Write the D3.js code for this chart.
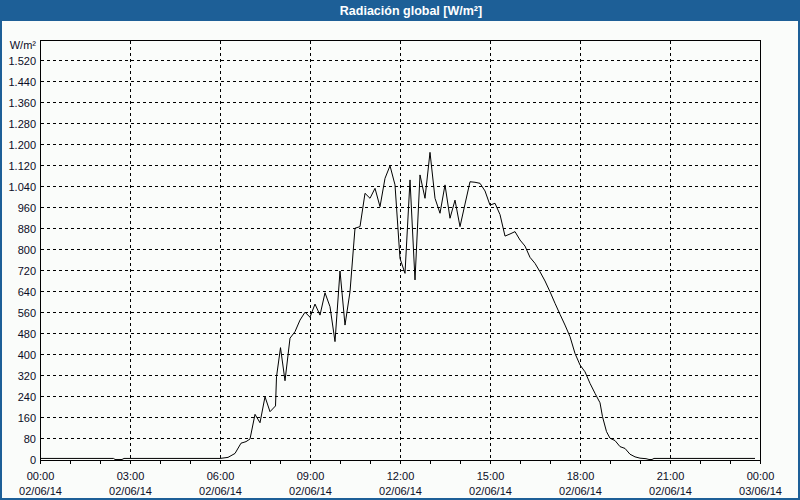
<!DOCTYPE html>
<html><head><meta charset="utf-8">
<script src="https://cdn.jsdelivr.net/npm/d3@7"></script>
<style>html,body{margin:0;padding:0;background:#fafcfa;} svg{display:block;}</style>
</head><body><svg id="c" width="800" height="500"></svg>
<script>
const title = "Radiación global [W/m²]";
const unitLabel = "W/m²";
const times = ["00:00","02:27","02:30","02:44","02:48","06:00","06:16","06:30","06:42","06:52",
  "07:00","07:10","07:20","07:30","07:40","07:51","07:53","08:01","08:10","08:20","08:30","08:40","08:50",
  "09:00","09:10","09:20","09:30","09:40","09:50","10:00","10:10","10:20","10:30","10:40","10:50",
  "11:00","11:10","11:20","11:30","11:40","11:50","12:00","12:10","12:20","12:30","12:40","12:50",
  "13:00","13:10","13:20","13:30","13:40","13:50","14:00","14:10","14:20","14:30","14:40","14:50",
  "15:00","15:10","15:20","15:30","15:40","15:50","16:00","16:10","16:20","16:30","16:40","16:50",
  "17:00","17:10","17:20","17:30","17:40","17:50","18:00","18:10","18:20","18:30","18:40","18:45","18:53",
  "19:00","19:10","19:20","19:30","19:40","19:50","20:00","20:12","20:18","20:24","20:28","23:50"];
const values = [6,6,2,2,6,6,10,25,64,70,
  80,174,142,241,184,206,317,428,302,464,489,533,563,
  544,594,552,637,584,451,720,514,641,883,889,1016,
  997,1035,965,1073,1121,1048,768,711,1067,686,1086,997,
  1172,997,940,1048,921,990,889,975,1060,1058,1054,1025,
  971,978,935,853,861,870,838,815,772,749,717,682,
  641,597,555,514,470,406,362,336,292,254,218,165,108,
  83,74,51,44,22,12,7,5,2,2,6,6];
const yTicks = [0,80,160,240,320,400,480,560,640,720,800,880,960,1040,1120,1200,1280,1360,1440,1520];
const yTickLabels = ["0","80","160","240","320","400","480","560","640","720","800","880","960",
  "1.040","1.120","1.200","1.280","1.360","1.440","1.520"];
const xTickHours = [0,1,2,3,4,5,6,7,8,9,10,11,12,13,14,15,16,17,18,19,20,21,22,23,24];
const xLabelHours = [0,3,6,9,12,15,18,21,24];
const xTimeLabels = ["00:00","03:00","06:00","09:00","12:00","15:00","18:00","21:00","00:00"];
const xDateLabels = ["02/06/14","02/06/14","02/06/14","02/06/14","02/06/14","02/06/14","02/06/14","02/06/14","03/06/14"];

const L=40, R=760, T=40, B=460;
const FONT = "'Liberation Sans', Arial, sans-serif";
const toMin = s => { const [h,m] = s.split(":").map(Number); return h*60+m; };
const data = times.map((t,i)=>({m: toMin(t), v: values[i]}));
data[data.length-1].m = toMin(times[times.length-1]);

const x = d3.scaleLinear().domain([0,1440]).range([L,R]);
const y = d3.scaleLinear().domain([0,1600]).range([B,T]);

const svg = d3.select("#c");
svg.append("rect").attr("x",0).attr("y",0).attr("width",800).attr("height",500).attr("fill","#fafcfa");
// title bar
svg.append("rect").attr("x",0).attr("y",0).attr("width",800).attr("height",21).attr("fill","#1d5f97");
svg.append("text").attr("x",411).attr("y",14.5).attr("text-anchor","middle")
  .attr("fill","#ffffff").attr("font-family",FONT).attr("font-weight","bold").attr("font-size","12.5px")
  .text(title);
// outer border
svg.append("rect").attr("x",1).attr("y",1).attr("width",798).attr("height",498)
  .attr("fill","none").attr("stroke","#1d5f97").attr("stroke-width",2);

// gridlines
const grid = svg.append("g").attr("shape-rendering","crispEdges")
  .attr("stroke","#000").attr("stroke-width",1).attr("stroke-dasharray","3,3");
grid.selectAll("line.h").data(yTicks.filter(v=>v>0)).join("line").attr("class","h")
  .attr("x1",L+1).attr("x2",R).attr("y1",d=>Math.round(y(d))-0.5).attr("y2",d=>Math.round(y(d))-0.5);
grid.selectAll("line.v").data(xLabelHours.filter(h=>h>0&&h<24)).join("line").attr("class","v")
  .attr("y1",T+1).attr("y2",B).attr("x1",d=>Math.round(x(d*60))+0.5).attr("x2",d=>Math.round(x(d*60))+0.5);

// frame top and right
const frame = svg.append("g").attr("shape-rendering","crispEdges").attr("stroke","#000");
frame.append("line").attr("x1",L).attr("x2",R+1).attr("y1",T+0.5).attr("y2",T+0.5);
frame.append("line").attr("x1",R+0.5).attr("x2",R+0.5).attr("y1",T).attr("y2",B+1);

// data line
const line = d3.line().x(d=>x(d.m)).y(d=>y(d.v));
svg.append("path").datum(data).attr("d",line).attr("fill","none").attr("stroke","#000").attr("stroke-width",1);

// y axis
const yAxis = d3.axisLeft(y).tickValues(yTicks).tickSize(0).tickPadding(4)
  .tickFormat((d,i)=>yTickLabels[i]);
const gy = svg.append("g").attr("transform",`translate(${L},0)`).call(yAxis);
gy.attr("font-family",FONT).attr("font-size","11px").style("color","#000");
gy.select(".domain").attr("shape-rendering","crispEdges");
gy.selectAll("text").attr("fill","#0b0b26");
svg.append("text").attr("x",36).attr("y",49).attr("text-anchor","end")
  .attr("font-family",FONT).attr("font-size","11px").attr("fill","#0b0b26").text(unitLabel);

// x axis
const xAxis = d3.axisBottom(x).tickValues(xTickHours.map(h=>h*60)).tickSize(4).tickSizeOuter(0).tickPadding(8)
  .tickFormat(d=>{ const i = xLabelHours.indexOf(d/60); return i<0 ? "" : String(i); });
const gx = svg.append("g").attr("transform",`translate(0,${B})`).call(xAxis);
gx.attr("font-family",FONT).attr("font-size","11px").style("color","#000");
gx.selectAll(".domain, line").attr("shape-rendering","crispEdges");
gx.selectAll("text").each(function(){
  const t = d3.select(this); const s = t.text(); t.text(null).attr("dy",null).attr("fill","#0b0b26");
  if(s==="") return;
  const i = +s;
  t.append("tspan").attr("x",0).attr("dy","0.71em").text(xTimeLabels[i]);
  t.append("tspan").attr("x",0).attr("dy","15").text(xDateLabels[i]);
});
</script></body></html>
